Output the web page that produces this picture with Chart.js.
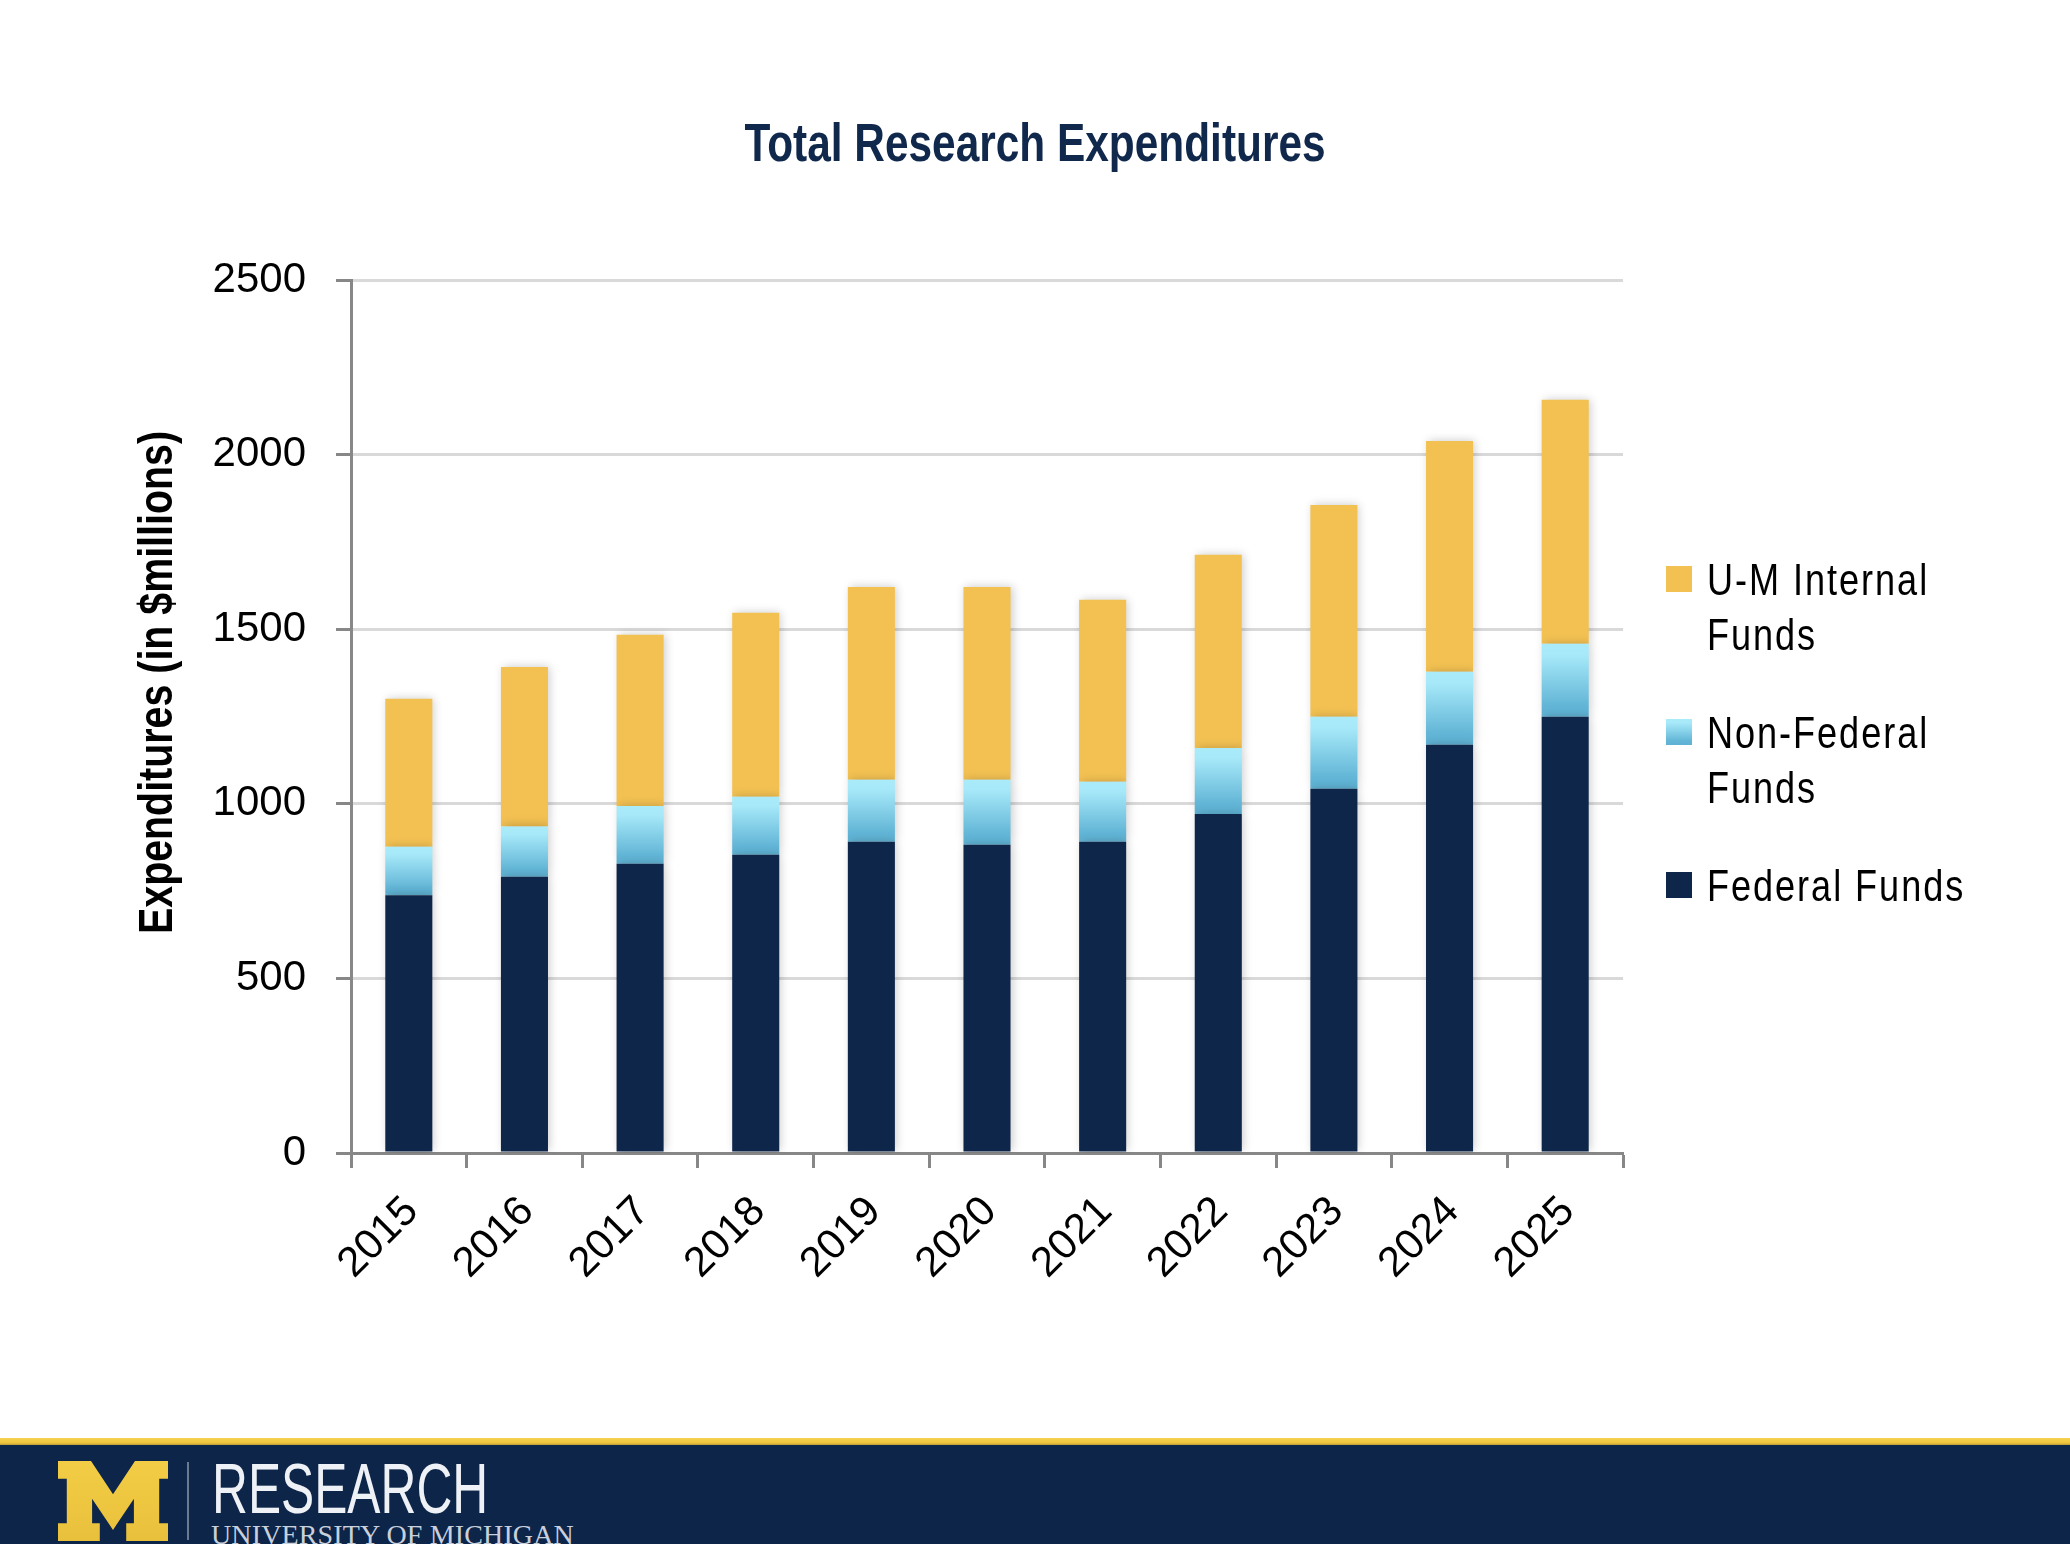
<!DOCTYPE html>
<html>
<head>
<meta charset="utf-8">
<title>Total Research Expenditures</title>
<script src="https://cdn.jsdelivr.net/npm/chart.js@4.4.1/dist/chart.umd.min.js"></script>
<style>
  html, body { margin: 0; padding: 0; background: #fff; }
  body { width: 2070px; height: 1544px; position: relative; overflow: hidden; }
  #wrap { position: absolute; left: 0; top: 0; width: 2070px; height: 1438px; }
  #banner { position: absolute; left: 0; top: 1438px; width: 2070px; height: 106px; background: #0d2549; overflow: hidden; }
  #banner .stripe { position: absolute; left: 0; top: 0; width: 100%; height: 7px; background: linear-gradient(#f5d250, #efc43c 70%, #b89a3a); }
  #banner svg { position: absolute; left: 58px; top: 23px; }
  #banner .divider { position: absolute; left: 187px; top: 24px; width: 2px; height: 78px; background: rgba(220,226,236,0.45); }
  #research { position: absolute; left: 212px; top: 16px; font: 70px 'Liberation Sans', Arial, sans-serif; line-height: 70px; color: #eef1f6; white-space: nowrap; transform-origin: 0 0; }
  #umich { position: absolute; left: 211px; top: 83px; font: 28px 'Liberation Serif', serif; line-height: 28px; color: #c9d0dc; white-space: nowrap; }
</style>
</head>
<body>
<div id="wrap"><canvas id="chart" width="2070" height="1438"></canvas></div>
<div id="banner">
  <div class="stripe"></div>
  <svg width="110" height="80" viewBox="0 0 100 72" preserveAspectRatio="none">
    <defs><linearGradient id="mg" x1="0" y1="0" x2="0" y2="1"><stop offset="0" stop-color="#f3cd45"/><stop offset="1" stop-color="#e9c03c"/></linearGradient></defs>
    <polygon fill="url(#mg)" points="0,0 30,0 50,30 70,0 100,0 100,16 92,16 92,56 100,56 100,72 62,72 62,56 69,56 69,34 50,62 31,34 31,56 38,56 38,72 0,72 0,56 8,56 8,16 0,16"/>
  </svg>
  <div class="divider"></div>
  <div id="research">RESEARCH</div>
  <div id="umich">UNIVERSITY OF MICHIGAN</div>
</div>
<script>
// values, $ millions
const years = ['2015', '2016', '2017', '2018', '2019', '2020', '2021', '2022', '2023', '2024', '2025'];
const federalFunds    = [738, 791, 828, 854, 891, 883, 891, 971, 1043, 1169, 1249];
const nonFederalFunds = [139, 144, 166, 166, 178, 186, 172, 189, 206, 209, 209];
const internalFunds   = [424, 457, 490, 527, 552, 552, 521, 553, 607, 661, 699];
const yTicks = [0, 500, 1000, 1500, 2000, 2500];
const seriesNames = ['Federal Funds', 'Non-Federal Funds', 'U-M Internal Funds'];
const legendLines = [['Federal Funds'], ['Non-Federal', 'Funds'], ['U-M Internal', 'Funds']];
const chartTitle = 'Total Research Expenditures';
const yTitle = 'Expenditures (in $millions)';

const SANS = "'Liberation Sans', Arial, sans-serif";
const NAVY = '#0e2649';
const GOLD = '#f3c152';
const AXIS = '#878787';
const NARROW_X = 0.82;   // no Arial Narrow here: squeeze Liberation Sans instead

function cyanGrad(ctx, top, bot) {
  const g = ctx.createLinearGradient(0, top, 0, bot);
  g.addColorStop(0, '#aaebfa');
  g.addColorStop(0.15, '#a7e9f9');
  g.addColorStop(0.85, '#62b5d6');
  g.addColorStop(1, '#5fb2d4');
  return g;
}

// draw text squeezed sideways, optionally rotated
function narrowText(ctx, txt, x, y, o) {
  ctx.save();
  ctx.translate(x, y);
  if (o.rot) ctx.rotate(o.rot);
  ctx.scale(o.sx || NARROW_X, 1);
  ctx.font = o.font;
  ctx.fillStyle = o.color || '#000';
  ctx.textAlign = o.align || 'left';
  ctx.textBaseline = 'alphabetic';
  if (o.ls && 'letterSpacing' in ctx) ctx.letterSpacing = o.ls + 'px';
  ctx.fillText(txt, 0, 0);
  ctx.restore();
}

// soft shadow round the bars
const barShadow = {
  id: 'barShadow',
  beforeDatasetsDraw(chart) {
    const ctx = chart.ctx;
    ctx.save();
    ctx.shadowColor = 'rgba(0,0,0,0.2)';
    ctx.shadowBlur = 9;
    ctx.shadowOffsetX = 2;
    ctx.shadowOffsetY = -1;
  },
  afterDatasetsDraw(chart) { chart.ctx.restore(); }
};

// title, y title and legend
const sideText = {
  id: 'sideText',
  afterDraw(chart) {
    const {ctx, chartArea, width} = chart;
    narrowText(ctx, chartTitle, width / 2, 161, { font: 'bold 54px ' + SANS, align: 'center', sx: 0.785, color: '#10284c' });
    narrowText(ctx, yTitle, chartArea.left - 179, (chartArea.top + chartArea.bottom) / 2 - 34,
      { font: 'bold 48px ' + SANS, align: 'center', rot: -Math.PI / 2 });

    const sx = chartArea.right + 43, tx = chartArea.right + 84;
    let top = chartArea.top + 286;
    [2, 1, 0].forEach(i => {
      const ds = chart.data.datasets[i];
      ctx.fillStyle = i === 1 ? cyanGrad(ctx, top, top + 26) : ds.legendFill;
      ctx.fillRect(sx, top, 26, 26);
      legendLines[i].forEach((ln, k) => narrowText(ctx, ln, tx, top + 29 + k * 55, { font: '44px ' + SANS, ls: 2.4 }));
      top += 153;
    });
  }
};

new Chart(document.getElementById('chart'), {
  type: 'bar',
  data: {
    labels: years,
    datasets: [
      { label: seriesNames[0], data: federalFunds, backgroundColor: NAVY, legendFill: NAVY },
      { label: seriesNames[1], data: nonFederalFunds,
        backgroundColor: c => {
          const y = c.chart.scales.y;
          const i = c.dataIndex;
          if (!y || i === undefined) return '#7fcbe6';
          const top = y.getPixelForValue(federalFunds[i] + nonFederalFunds[i]);
          const bot = y.getPixelForValue(federalFunds[i]);
          if (!isFinite(top) || !isFinite(bot)) return '#7fcbe6';
          return cyanGrad(c.chart.ctx, top, bot);
        } },
      { label: seriesNames[2], data: internalFunds, backgroundColor: GOLD, legendFill: GOLD }
    ]
  },
  options: {
    responsive: false,
    animation: false,
    devicePixelRatio: 1,
    barPercentage: 0.407,
    categoryPercentage: 1.0,
    layout: { padding: { left: 0, right: 447, top: 280, bottom: 0 } },
    plugins: {
      legend: { display: false },
      tooltip: { enabled: false },
      title: { display: false }
    },
    scales: {
      x: {
        stacked: true,
        afterFit: s => { s.height = 285; },
        grid: { drawOnChartArea: false, drawTicks: true, tickLength: 15, tickColor: AXIS, tickWidth: 3, color: AXIS },
        border: { display: true, color: AXIS, width: 3 },
        ticks: { color: '#000', font: { family: SANS, size: 42 }, minRotation: 45, maxRotation: 45, autoSkip: false, padding: 19, labelOffset: 3 }
      },
      y: {
        stacked: true,
        min: 0,
        max: 2500,
        afterFit: s => { s.width = 351; },
        afterBuildTicks: s => { s.ticks = yTicks.map(v => ({ value: v })); },
        grid: { color: '#d9d9d9', lineWidth: 3, tickLength: 15, tickColor: AXIS, tickWidth: 3 },
        border: { display: true, color: AXIS, width: 3 },
        ticks: { color: '#000', font: { family: SANS, size: 42 }, padding: 30, callback: v => String(v) }
      }
    }
  },
  plugins: [barShadow, sideText]
});

// squeeze the banner word to its width in the picture
const r = document.getElementById('research');
r.style.transform = 'scaleX(' + (276 / r.scrollWidth).toFixed(3) + ')';
const u = document.getElementById('umich');
u.style.letterSpacing = ((363 - u.scrollWidth) / u.textContent.length).toFixed(2) + 'px';
</script>
</body>
</html>
